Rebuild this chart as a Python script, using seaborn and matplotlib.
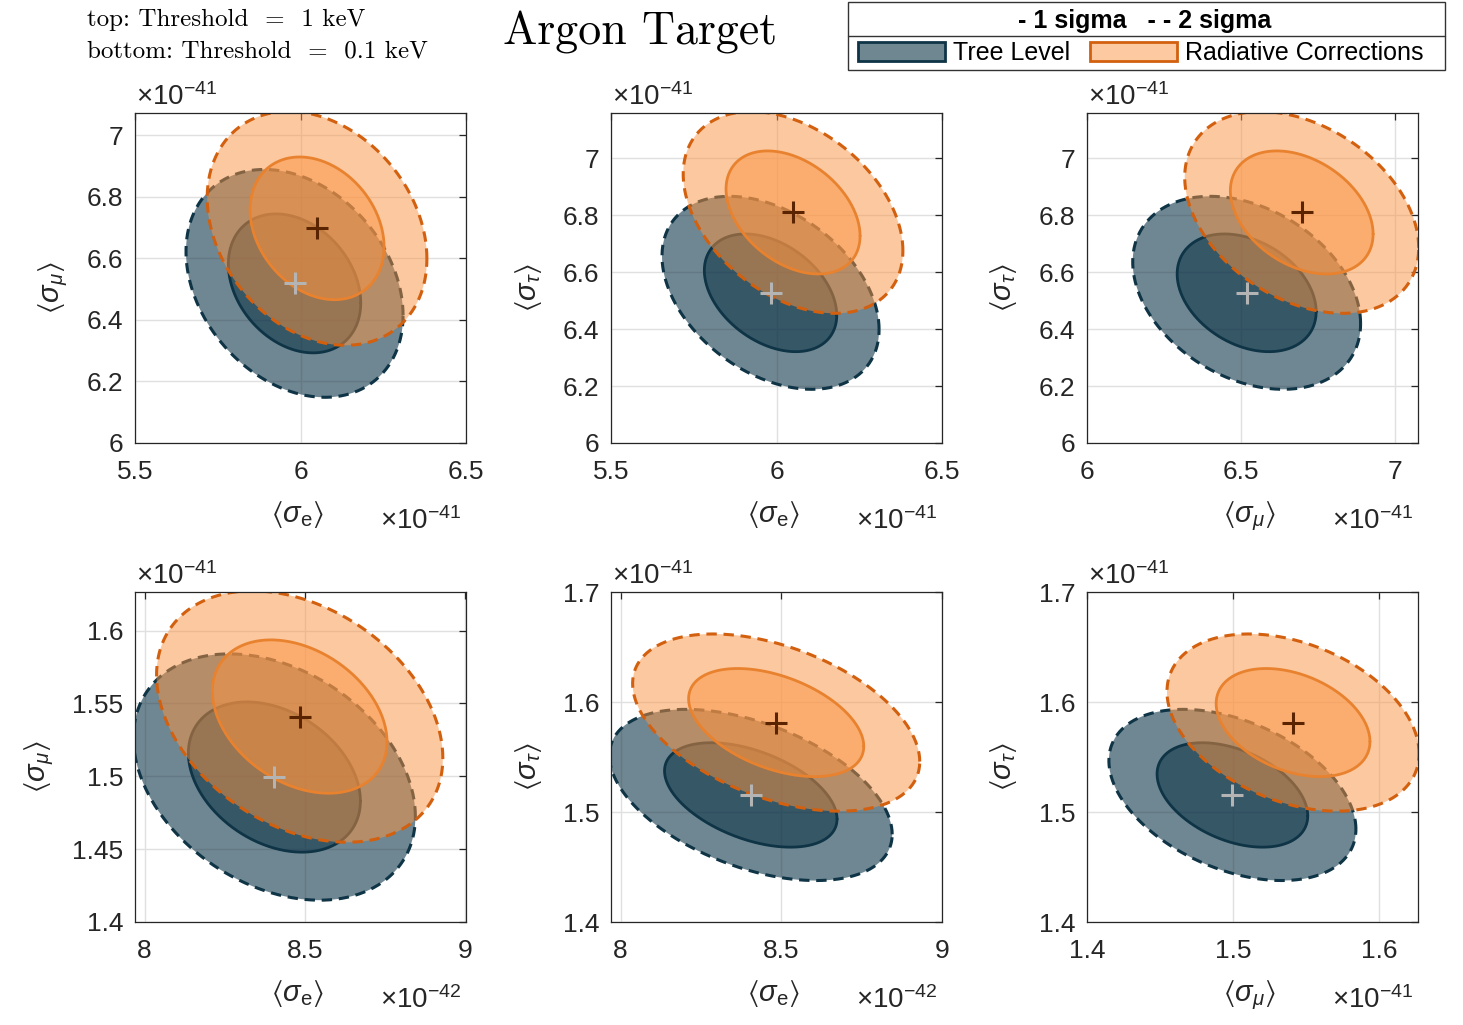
import numpy as np
import seaborn as sns
import matplotlib
matplotlib.use("Agg")
import matplotlib.pyplot as plt
from matplotlib.patches import Patch, Rectangle
from matplotlib.lines import Line2D
from matplotlib.ticker import FuncFormatter

# --- data ---
# flavour order: e, mu, tau ; correlations in order (e,mu), (e,tau), (mu,tau)
flavour_tex = [r"\mathrm{e}", r"\mathit{\mu}", r"\mathit{\tau}"]

# top row: threshold = 1 keV
tree_mean_1keV = [5.982e-41, 6.519e-41, 6.527e-41]
tree_sigma_1keV = [0.1319e-41, 0.1490e-41, 0.1362e-41]
tree_rho_1keV = [-0.28, -0.38, -0.32]
rad_mean_1keV = [6.050e-41, 6.698e-41, 6.809e-41]
rad_sigma_1keV = [0.1335e-41, 0.1530e-41, 0.1424e-41]
rad_rho_1keV = [-0.26, -0.38, -0.35]

# bottom row: threshold = 0.1 keV
tree_mean_01keV = [8.405e-42, 1.4995e-41, 1.5155e-41]
tree_sigma_01keV = [0.1770e-42, 0.0340e-41, 0.0313e-41]
tree_rho_01keV = [-0.32, -0.46, -0.40]
rad_mean_01keV = [8.484e-42, 1.541e-41, 1.5813e-41]
rad_sigma_01keV = [0.1797e-42, 0.0347e-41, 0.0324e-41]
rad_rho_01keV = [-0.33, -0.44, -0.35]

# panel layout: (x flavour, y flavour)
pairs = [(0, 1), (0, 2), (1, 2)]

# axis limits / ticks (in units of the shown x10^n factor)
xlims = [(5.5, 6.5), (5.5, 6.5), (6.0, 7.076), (7.97, 9.003), (7.97, 9.0), (1.4, 1.6265)]
ylims = [(6.0, 7.073), (6.0, 7.158), (6.0, 7.158), (1.4, 1.6265), (1.4, 1.7), (1.4, 1.7)]
xticks = [[5.5, 6, 6.5], [5.5, 6, 6.5], [6, 6.5, 7], [8, 8.5, 9], [8, 8.5, 9], [1.4, 1.5, 1.6]]
yticks = [[6, 6.2, 6.4, 6.6, 6.8, 7]] * 3 + [[1.4, 1.45, 1.5, 1.55, 1.6],
                                              [1.4, 1.5, 1.6, 1.7], [1.4, 1.5, 1.6, 1.7]]
ylabel_x = [-0.248, -0.25, -0.252, -0.29, -0.25, -0.252]

# chi2 levels for 2 parameters
K1, K2 = 2.30, 6.18

# --- colours ---
tree_col = "#10374a"
tree_edge = "#0e3446"
rad_col = "#fb9341"
rad_edge1 = "#e8822f"
rad_edge2 = "#d2600f"

sns.set_theme(style="whitegrid")
plt.rcParams["font.family"] = ["Liberation Sans", "DejaVu Sans"]
plt.rcParams.update({
    "mathtext.fontset": "custom",
    "mathtext.rm": "Liberation Sans",
    "mathtext.it": "Liberation Sans:italic",
    "mathtext.bf": "Liberation Sans:bold",
    "mathtext.default": "regular",
    "axes.edgecolor": "#262626",
    "axes.linewidth": 0.9,
    "text.color": "#262626",
})

theta = np.linspace(0, 2 * np.pi, 400)


def ellipse(mx, my, sx, sy, rho, k):
    cov = np.array([[sx * sx, rho * sx * sy], [rho * sx * sy, sy * sy]])
    L = np.linalg.cholesky(cov)
    pts = np.sqrt(k) * L @ np.vstack([np.cos(theta), np.sin(theta)])
    return mx + pts[0], my + pts[1]


def draw_model(ax, mean, sigma, rho, i, j, sx_scale, sy_scale, fill, alpha, e1, e2):
    r = rho[i + j - 1]  # (0,1)->0, (0,2)->1, (1,2)->2
    mx, my = mean[i] / sx_scale, mean[j] / sy_scale
    sx, sy = sigma[i] / sx_scale, sigma[j] / sy_scale
    x2, y2 = ellipse(mx, my, sx, sy, r, K2)
    ax.fill(x2, y2, color=fill, alpha=alpha, lw=0, zorder=2)
    ax.plot(x2, y2, color=e2, lw=2.2, dashes=(3.4, 2.2), zorder=2)
    x1, y1 = ellipse(mx, my, sx, sy, r, K1)
    ax.fill(x1, y1, color=fill, alpha=alpha, lw=0, zorder=2)
    ax.plot(x1, y1, color=e1, lw=2.0, zorder=2)
    return mx, my


fig = plt.figure(figsize=(14.63, 10.25), dpi=100)
W, H = 1463, 1025
lefts = [135, 611, 1087]
bottoms = [443, 922]

rows = [
    (tree_mean_1keV, tree_sigma_1keV, tree_rho_1keV, rad_mean_1keV, rad_sigma_1keV, rad_rho_1keV),
    (tree_mean_01keV, tree_sigma_01keV, tree_rho_01keV, rad_mean_01keV, rad_sigma_01keV, rad_rho_01keV),
]

fmt = FuncFormatter(lambda v, p: f"{v:g}")

for r, (tm, ts, tr, rm, rs, rr) in enumerate(rows):
    for c, (i, j) in enumerate(pairs):
        p = r * 3 + c
        ax = fig.add_axes([lefts[c] / W, (H - bottoms[r]) / H, 331 / W, 330 / H])
        ex_x = int(np.floor(np.log10(tm[i])))
        ex_y = int(np.floor(np.log10(tm[j])))
        scx, scy = 10.0 ** ex_x, 10.0 ** ex_y

        tx, ty = draw_model(ax, tm, ts, tr, i, j, scx, scy, tree_col, 0.6, tree_edge, tree_edge)
        rx, ry = draw_model(ax, rm, rs, rr, i, j, scx, scy, rad_col, 0.5, rad_edge1, rad_edge2)
        sns.scatterplot(x=[tx], y=[ty], marker="+", s=230, color="#b4b4b4",
                        linewidth=2.2, ax=ax, zorder=5)
        sns.scatterplot(x=[rx], y=[ry], marker="+", s=230, color="#5a2400",
                        linewidth=2.2, ax=ax, zorder=5)

        ax.set_xlim(xlims[p])
        ax.set_ylim(ylims[p])
        ax.set_xticks(xticks[p])
        ax.set_yticks(yticks[p])
        ax.xaxis.set_major_formatter(fmt)
        ax.yaxis.set_major_formatter(fmt)
        ax.set_axisbelow(True)
        ax.grid(True, color="#e0e0e0", lw=1.0)
        for s in ax.spines.values():
            s.set_visible(True)
            s.set_color("#262626")
            s.set_linewidth(0.9)
        ax.tick_params(axis="both", direction="in", length=5, width=0.9, color="#262626",
                       labelsize=19, labelcolor="#262626", top=True, right=True)
        ax.tick_params(axis="x", pad=12.5)
        ax.tick_params(axis="y", pad=8.5)

        ax.set_xlabel(rf"$\langle\mathit{{\sigma}}_{{{flavour_tex[i]}}}\rangle$", fontsize=21)
        ax.xaxis.set_label_coords(0.49, -0.239)
        ax.xaxis.label.set_va("baseline")
        ax.set_ylabel(rf"$\langle\mathit{{\sigma}}_{{{flavour_tex[j]}}}\rangle$", fontsize=21)
        ax.yaxis.set_label_coords(ylabel_x[p], 0.47)
        ax.yaxis.label.set_va("center")

        ax.text(0.987, -0.261, rf"$\times$10$^{{{ex_x}}}$", transform=ax.transAxes,
                ha="right", va="baseline", fontsize=20)
        ax.text(0.004, 1.024, rf"$\times$10$^{{{ex_y}}}$", transform=ax.transAxes,
                ha="left", va="baseline", fontsize=20)

# --- header texts ---
fig.text(87 / W, 1 - 26 / H, "top: Threshold  =  1 keV", fontfamily="cmr10", fontsize=18,
         color="black", va="baseline")
fig.text(87 / W, 1 - 57 / H, "bottom: Threshold  =  0.1 keV", fontfamily="cmr10",
         fontsize=18, color="black", va="baseline")
fig.text(503 / W, 1 - 44 / H, "Argon Target", fontfamily="cmr10", fontsize=33,
         color="black", va="baseline")

# --- legend: outer box, title row and separator, entries via fig.legend ---
fig.add_artist(Rectangle((848 / W, 1 - 70 / H), (1445 - 848) / W, 68 / H,
                         transform=fig.transFigure, facecolor="white", edgecolor="#333333",
                         lw=1.0, zorder=8))
fig.add_artist(Line2D([848 / W, 1445 / W], [1 - 36 / H, 1 - 36 / H],
                      transform=fig.transFigure, color="#333333", lw=1.0, zorder=9))
fig.text(1145 / W, 1 - 21 / H, "- 1 sigma   - - 2 sigma", fontsize=18, fontweight="bold",
         color="black", ha="center", va="center", zorder=10)

handles = [Patch(facecolor="#6f8791", edgecolor=tree_edge, lw=2),
           Patch(facecolor="#fdc9a0", edgecolor=rad_edge2, lw=2)]
leg = fig.legend(handles=handles, labels=["Tree Level", "Radiative Corrections"], ncol=2,
                 loc="center left", bbox_to_anchor=(848 / W, 1 - 53.5 / H), borderaxespad=0,
                 fontsize=18, frameon=False,
                 handlelength=3.5, handleheight=0.8, handletextpad=0.3, columnspacing=0.78,
                 borderpad=0.4)
leg.set_zorder(10)
for t in leg.get_texts():
    t.set_color("black")

fig.savefig("out.png", dpi=100, facecolor="white")
